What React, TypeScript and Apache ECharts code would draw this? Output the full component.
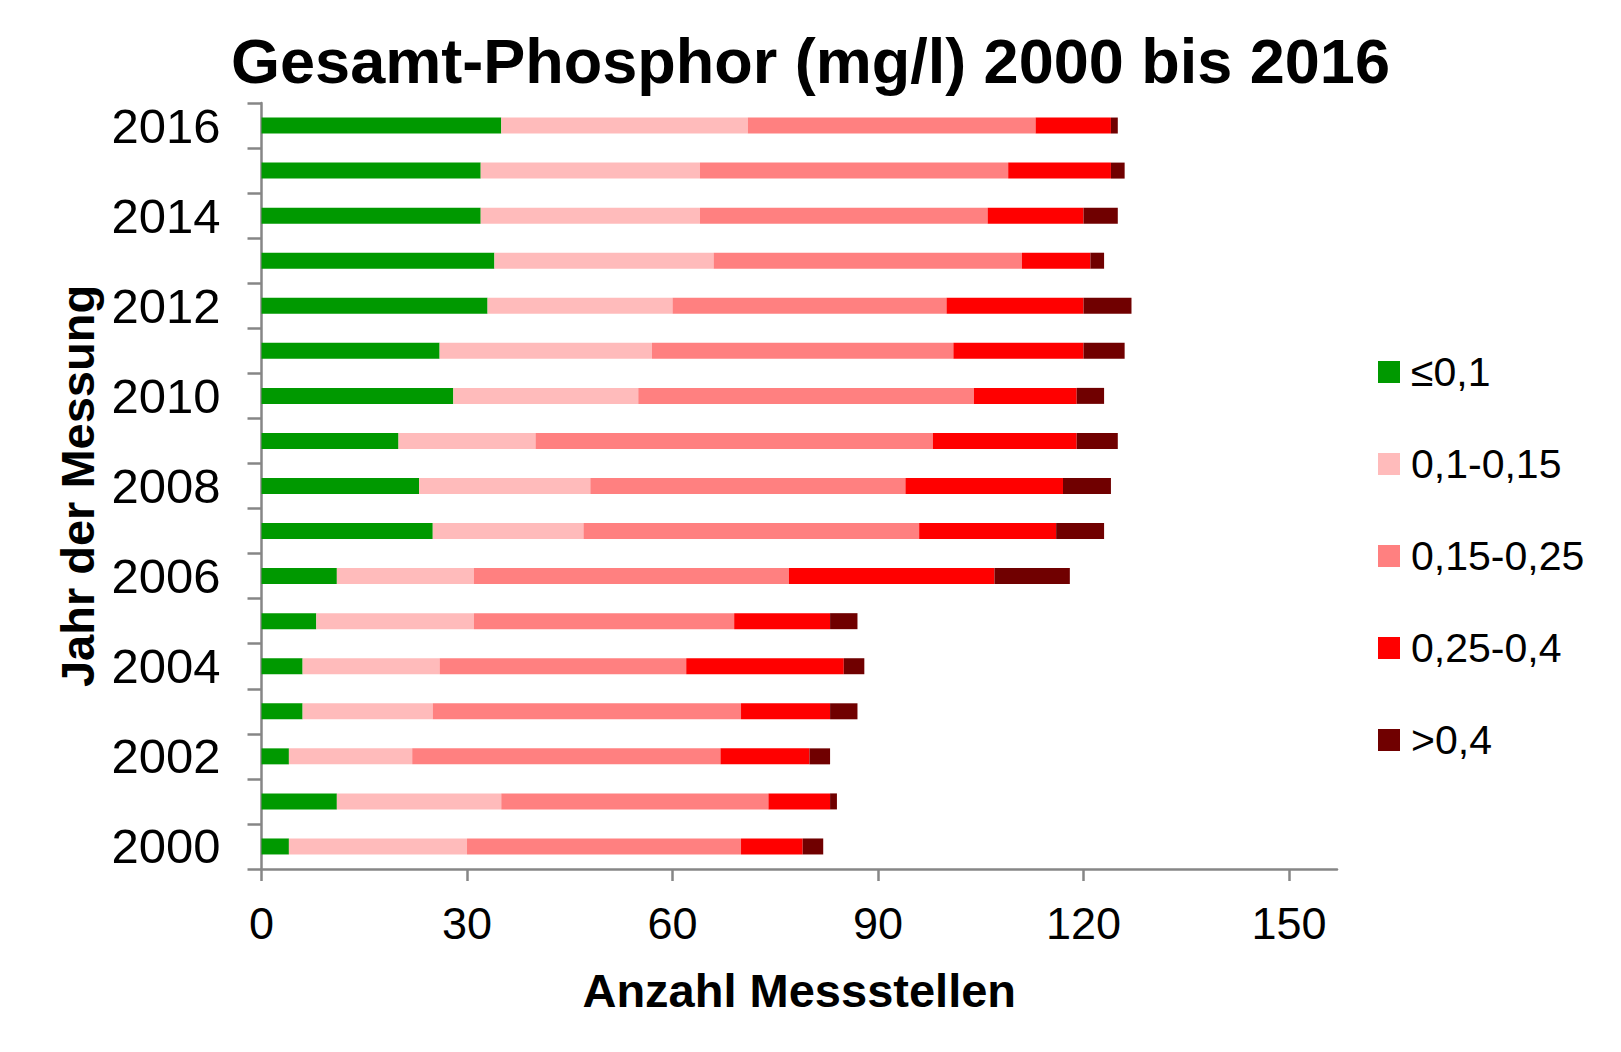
import React, { useEffect, useRef } from "react";
import * as echarts from "echarts";

const years = ["2000","2001","2002","2003","2004","2005","2006","2007","2008","2009","2010","2011","2012","2013","2014","2015","2016"];
const seriesNames = ["≤0,1", "0,1-0,15", "0,15-0,25", "0,25-0,4", ">0,4"];
const seriesColors = ["#009900", "#FFBBBB", "#FF8080", "#FF0000", "#700000"];

const le01 =     [4, 11, 4, 6, 6, 8, 11, 25, 23, 20, 28, 26, 33, 34, 32, 32, 35];
const v01_015 =  [26, 24, 18, 19, 20, 23, 20, 22, 25, 20, 27, 31, 27, 32, 32, 32, 36];
const v015_025 = [40, 39, 45, 45, 36, 38, 46, 49, 46, 58, 49, 44, 40, 45, 42, 45, 42];
const v025_04 =  [9, 9, 13, 13, 23, 14, 30, 20, 23, 21, 15, 19, 20, 10, 14, 15, 11];
const gt04 =     [3, 1, 3, 4, 3, 4, 11, 7, 7, 6, 4, 6, 7, 2, 5, 2, 1];

const xTicks = [0, 30, 60, 90, 120, 150];

const FONT = "'Liberation Sans', Arial, Helvetica, sans-serif";
const AXIS_GREY = "#868686";

export default function App() {
  const ref = useRef<HTMLDivElement>(null);
  useEffect(() => {
    if (!ref.current) return;
    const chart = echarts.init(ref.current, undefined, { renderer: "svg" });
    const data = [le01, v01_015, v015_025, v025_04, gt04];
    chart.setOption({
      animation: false,
      backgroundColor: "#ffffff",
      textStyle: { fontFamily: FONT },
      title: {
        text: "Gesamt-Phosphor (mg/l) 2000 bis 2016",
        left: "center",
        top: 24,
        textStyle: { fontFamily: FONT, fontSize: 63, fontWeight: "bold", color: "#000" },
      },
      legend: {
        orient: "vertical",
        left: 1373,
        top: 346,
        itemWidth: 22,
        itemHeight: 22,
        itemGap: 50,
        icon: "rect",
        data: seriesNames,
        textStyle: { fontFamily: FONT, fontSize: 41, color: "#000", lineHeight: 42, padding: [0, 0, 0, 6] },
      },
      grid: { left: 261.5, right: 284, top: 103, bottom: 183, containLabel: false },
      xAxis: {
        type: "value",
        min: 0,
        max: 157,
        name: "Anzahl Messstellen",
        nameLocation: "middle",
        nameGap: 98,
        nameTextStyle: { fontFamily: FONT, fontSize: 47, fontWeight: "bold", color: "#000" },
        axisLine: { show: true, lineStyle: { color: AXIS_GREY, width: 2.5 } },
        axisTick: { show: true, length: 12, lineStyle: { color: AXIS_GREY, width: 2.5 }, customValues: xTicks },
        axisLabel: { fontFamily: FONT, fontSize: 45, color: "#000", margin: 32, customValues: xTicks },
        splitLine: { show: false },
      },
      yAxis: {
        type: "category",
        data: years,
        name: "Jahr der Messung",
        nameLocation: "middle",
        nameRotate: 90,
        nameGap: 158,
        nameTextStyle: { fontFamily: FONT, fontSize: 47, fontWeight: "bold", color: "#000" },
        axisLine: { show: true, lineStyle: { color: AXIS_GREY, width: 2.5 } },
        axisTick: { show: true, interval: 0, alignWithLabel: false, length: 14, lineStyle: { color: AXIS_GREY, width: 2.5 } },
        axisLabel: { interval: 1, fontFamily: FONT, fontSize: 49, color: "#000", margin: 41 },
        splitLine: { show: false },
      },
      series: seriesNames.map((name, i) => ({
        name,
        type: "bar",
        stack: "total",
        barWidth: 16,
        itemStyle: { color: seriesColors[i] },
        data: data[i],
      })),
    });
    return () => chart.dispose();
  }, []);
  return (
    <div
      ref={ref}
      style={{ position: "absolute", left: 0, top: 0, width: 1621, height: 1052, background: "#fff" }}
    />
  );
}
